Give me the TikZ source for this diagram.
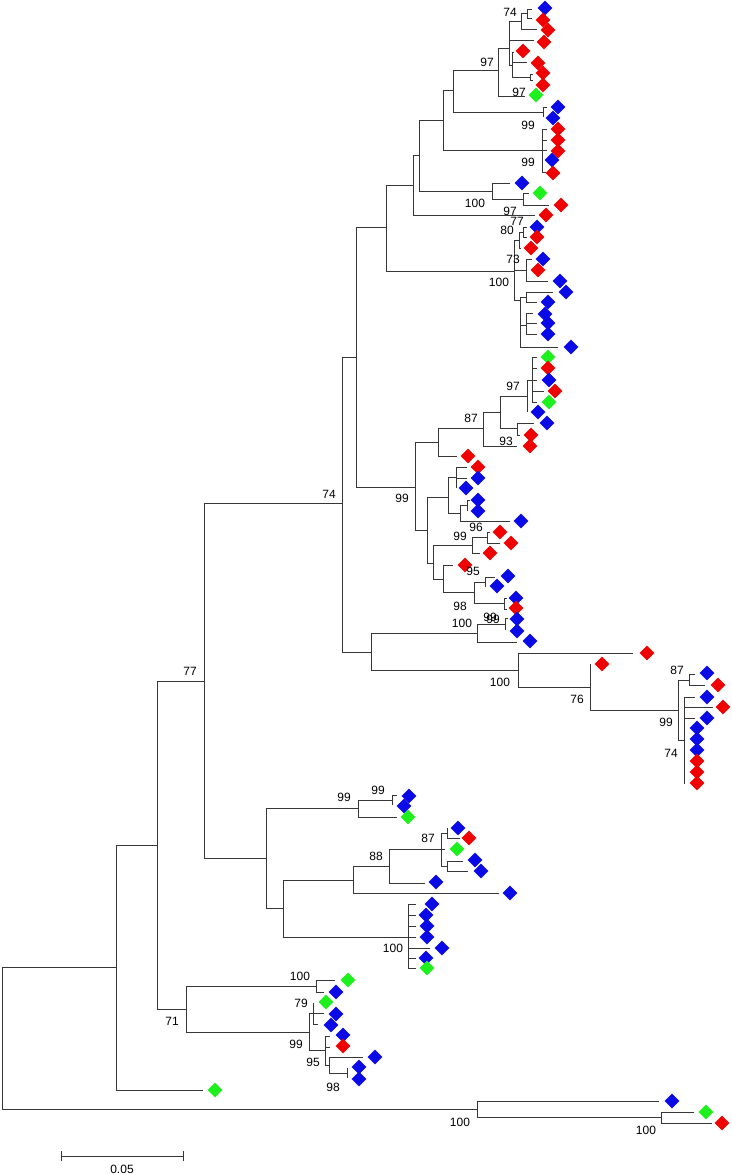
\documentclass[tikz,border=0pt]{standalone}
\usepackage{fontspec}
\setmainfont{Liberation Sans}
\usetikzlibrary{shapes.geometric}
\definecolor{cb}{RGB}{10,10,230}
\definecolor{cr}{RGB}{240,0,0}
\definecolor{cg}{RGB}{30,240,30}
\definecolor{ln}{RGB}{55,55,55}
\tikzset{
  br/.style={draw=ln,line width=0.9pt},
  dm/.style={diamond,inner sep=0pt,minimum width=15pt,minimum height=15pt,draw=none},
  bs/.style={font=\fontsize{12}{14}\selectfont,inner sep=0pt,text=black}
}
\def\inner{R/2/1038,T/116/967,Out/477/1109,O2/661/1117,U/157/845,V/204/681,W/186/1009,
W1/316/986,W2/309/1032,W3/313/1013,W4/325/1050,W5/329/1065,W6/347/1073,
X/342/503,Y/266/858,Y1/358/808,Y1a/392/800,Y2/283/908,Y3/353/880,Y4/408/937,Y5/389/866,
Y6/441/849,Y7/447/833,Y8/447/866,Xa/356/357,Xb/371/652,Xc/477/633,Xe/505/624,Xd/518/670,
Xf/590/687,Xg/678/710,Xh/689/680,Xi/684/740,Xj/684/756,A/386/227,B/413/185,C/419/155,
D/443/120,Q/453/90,P/498/70,H/509/48,I/521/21,K/527/13,J/512/65,J2/530/77,L/543/112,
G/542/150,E/492/191,F/523/199,N/514/271,N1/519/240,N2/523/232,N3/526/270,N4/520/300,
N5/526/297,N6/526/325,M/415/487,M1/438/442,M3/483/428,M4/500/412,M6/527/396,M7/532/380,
M5/517/428,M2/427/530,M8/448/497,M10/456/477,M12/460/513,M13/467/505,M11/433/563,
M14/472/545,M15/487/537,M16/443/579,M17/474/592,M18/485/582,M19/504/603}
\def\edges{R/T,R/Out,Out/O2,T/U,U/V,U/W,W/W1,W/W2,W2/W3,W2/W4,W4/W5,W5/W6,
V/X,V/Y,Y/Y1,Y1/Y1a,Y/Y2,Y2/Y3,Y2/Y4,Y3/Y5,Y5/Y6,Y6/Y7,Y6/Y8,
X/Xa,X/Xb,Xb/Xc,Xc/Xe,Xb/Xd,Xd/Xf,Xf/Xg,Xg/Xh,Xg/Xi,Xi/Xj,
Xa/A,Xa/M,A/B,A/N,B/C,C/D,C/E,E/F,D/Q,D/G,Q/P,Q/L,P/H,H/I,I/K,H/J,J/J2,
N/N1,N1/N2,N/N3,N/N4,N4/N5,N4/N6,
M/M1,M/M2,M1/M3,M3/M4,M4/M6,M6/M7,M4/M5,M2/M8,M8/M10,M8/M12,M12/M13,M2/M11,
M11/M14,M14/M15,M11/M16,M16/M17,M17/M18,M17/M19}
\def\leaves{1/K/532/9/545/8/b,2/K/532/18/543/20/r,3/I/537/29/548/30/r,4/H/534/40/544/42/r,
5/J/514/52/523/51/r,6/J/527/62/538/63/r,7/J2/533/74/543/73/r,8/J2/533/80/543/85/r,
9/P/525/96/536/95/g,10/L/547/107/558/107/b,11/L/543/117/553/118/b,12/G/547/129/558/129/r,
13/G/547/140/558/140/r,14/G/547/150/558/151/r,15/G/542/161/552/160/b,16/G/546/172/553/173/r,
17/E/510/183/522/183/b,18/F/529/193/540/193/g,19/F/549/205/561/205/r,20/B/535/215/546/215/r,
21/N2/527/227/537/227/b,22/N2/527/237/537/237/r,23/N1/521/248/531/248/r,24/N3/532/259/543/259/b,
25/N3/526/270/538/270/r,26/N3/548/281/560/281/b,27/N5/553/292/566/292/b,28/N5/537/302/548/302/b,
29/N6/533/313/545/314/b,30/N6/537/323/548/323/b,31/N6/537/334/548/334/b,32/N4/558/347/571/347/b,
33/M7/537/357/548/357/g,34/M7/537/368/548/368/r,35/M7/537/380/549/380/b,36/M7/544/391/555/391/r,
37/M7/537/402/549/402/g,38/M6/527/412/538/412/b,39/M5/534/423/547/423/b,40/M5/520/435/531/435/r,
41/M3/517/446/530/446/r,42/M1/457/456/468/456/r,43/M10/467/467/478/467/r,44/M10/467/478/478/478/b,
45/M10/456/488/466/488/b,46/M13/470/500/478/500/b,47/M13/467/511/478/511/b,48/M12/510/521/521/521/b,
49/M15/490/532/500/532/r,50/M15/500/543/511/543/r,51/M14/480/553/490/553/r,52/M16/453/565/465/565/r,
53/M18/495/577/508/576/b,54/M18/485/587/497/586/b,55/M19/507/598/516/598/b,56/M19/507/609/516/608/r,
57/Xe/508/618/517/619/b,58/Xe/505/630/517/631/b,59/Xc/517/642/530/641/b,60/Xd/633/653/647/653/r,
61/Xf/590/664/602/664/r,62/Xh/695/674/707/673/b,63/Xh/705/685/718/685/r,64/Xi/695/697/707/697/b,
65/Xi/713/707/723/707/r,66/Xi/695/718/707/718/b,67/Xj/684/728/697/728/b,68/Xj/684/739/697/739/b,
69/Xj/684/750/697/750/b,70/Xj/684/761/697/761/r,71/Xj/684/772/697/772/r,72/Xj/684/784/697/783/r,
73/Y1a/397/795/409/796/b,74/Y1a/392/805/404/806/b,75/Y1/397/817/408/817/g,76/Y7/448/828/458/828/b,
77/Y7/460/838/469/838/r,78/Y6/445/849/457/849/g,79/Y8/463/861/475/860/b,80/Y8/468/871/481/871/b,
81/Y5/425/883/436/882/b,82/Y3/499/893/510/893/b,83/Y4/416/904/432/904/b,84/Y4/416/915/426/915/b,
85/Y4/416/926/427/926/b,86/Y4/416/937/427/937/b,87/Y4/430/948/442/948/b,88/Y4/416/958/426/958/b,
89/Y4/416/968/427/968/g,90/W1/335/980/348/980/g,91/W1/324/992/336/992/b,92/W3/313/1003/326/1002/g,
93/W3/324/1013/336/1014/b,94/W3/318/1024/331/1025/b,95/W4/330/1036/343/1035/b,96/W4/330/1047/343/1046/r,
97/W5/363/1057/375/1057/b,98/W6/347/1068/359/1067/b,99/W6/347/1078/359/1079/b,100/T/203/1090/215/1090/g,
101/Out/659/1101/672/1101/b,102/O2/694/1112/706/1112/g,103/O2/712/1123/722/1123/r}
\def\labels{74/510/12,97/487/62,97/519/92,99/528/125,99/528/162,100/475/203,97/510/211,77/517/221,
80/507/230,73/513/259,100/499/282,97/513/386,87/471/418,93/506/441,99/402/498,74/329/494,
96/476/527,99/460/536,95/473/571,98/460/606,99/490/617,99/493/619,100/462/623,100/500/682,
76/577/699,87/677/670,99/666/722,74/671/753,77/190/671,99/378/790,99/344/797,88/376/856,
87/428/838,100/393/948,100/300/976,79/301/1003,71/172/1021,99/296/1044,95/313/1062,
98/333/1087,100/460/1122,100/646/1130}
\begin{document}
\begin{tikzpicture}[x=1pt,y=-1pt]
\fill[white] (0,0) rectangle (731,1174);
\useasboundingbox (0,0) rectangle (731,1174);
\foreach \nm/\xx/\yy in \inner { \coordinate (\nm) at (\xx,\yy); }
\foreach \pa/\ch in \edges { \draw[br] (\pa) |- (\ch); }
\foreach \n/\pa/\ex/\ly/\dx/\dy/\cc in \leaves {
  \coordinate (l\n) at (\ex,\ly);
  \draw[br] (\pa) |- (l\n);
}
\foreach \n/\pa/\ex/\ly/\dx/\dy/\cc in \leaves {
  \node[dm,fill=c\cc] (d\n) at (\dx,\dy) {};
}
\foreach \t/\xx/\yy [count=\k] in \labels { \node[bs] (bs\k) at (\xx,\yy) {\t}; }
% scale bar
\coordinate (sb1) at (61,1156);
\coordinate (sb2) at (183,1156);
\draw[br] (sb1) -- (sb2);
\draw[br] ([yshift=-5pt]sb1) -- ([yshift=5pt]sb1);
\draw[br] ([yshift=-5pt]sb2) -- ([yshift=5pt]sb2);
\node[bs] (sbl) at (122,1169) {0.05};
\end{tikzpicture}
\end{document}
